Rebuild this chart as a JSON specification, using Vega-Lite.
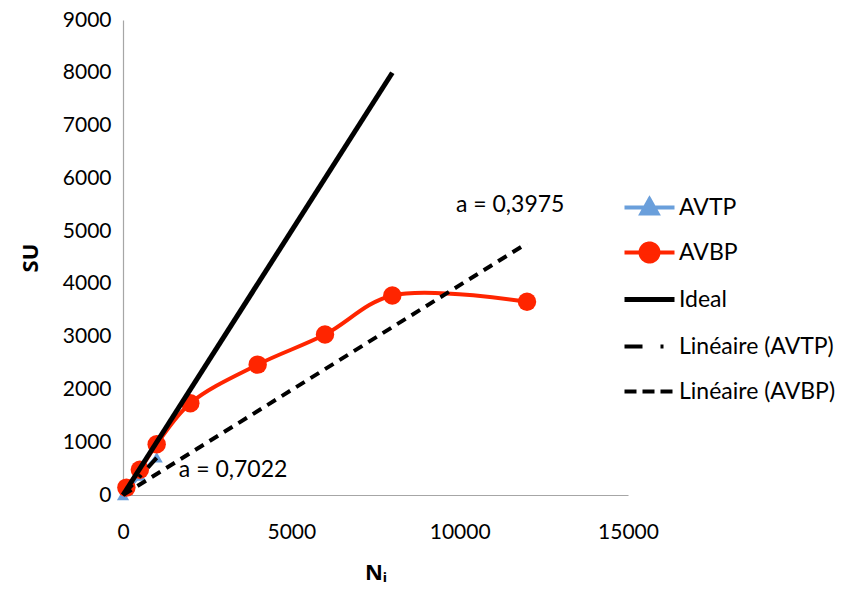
{
  "$schema": "https://vega.github.io/schema/vega-lite/v6.json",
  "width": 505,
  "height": 475,
  "autosize": {"type": "none"},
  "padding": {"left": 123, "top": 20, "right": 224, "bottom": 97},
  "background": "white",
  "config": {
    "view": {"stroke": null},
    "font": "Lato",
    "axis": {"grid": false, "ticks": false, "labelFlush": false, "domainColor": "#a6a6a6", "domainWidth": 1.2, "labelFont": "Lato", "labelFontSize": 21, "labelColor": "#000000", "titleFont": "Noto Sans", "titleFontSize": 22, "titleFontWeight": "bold", "titleColor": "#000000"}
  },
  "datasets": {
    "series": [
      {"series": "AVTP", "x": 1, "y": 1},
      {"series": "AVTP", "x": 100, "y": 95},
      {"series": "AVTP", "x": 500, "y": 370},
      {"series": "AVTP", "x": 1000, "y": 715},
      {"series": "AVBP", "x": 100, "y": 140},
      {"series": "AVBP", "x": 500, "y": 480},
      {"series": "AVBP", "x": 1000, "y": 960},
      {"series": "AVBP", "x": 2000, "y": 1740},
      {"series": "AVBP", "x": 4000, "y": 2470},
      {"series": "AVBP", "x": 6000, "y": 3040},
      {"series": "AVBP", "x": 8000, "y": 3780},
      {"series": "AVBP", "x": 12000, "y": 3660},
      {"series": "Ideal", "x": 0, "y": 0},
      {"series": "Ideal", "x": 8000, "y": 8000},
      {"series": "Linéaire (AVTP)", "x": 0, "y": 0},
      {"series": "Linéaire (AVTP)", "x": 1000, "y": 702.2},
      {"series": "Linéaire (AVBP)", "x": 0, "y": 0},
      {"series": "Linéaire (AVBP)", "x": 12000, "y": 4770}
    ],
    "notes": [
      {"x": 11500, "y": 5490, "label": "a = 0,3975"},
      {"x": 3270, "y": 473, "label": "a = 0,7022"}
    ]
  },
  "data": {"name": "series"},
  "encoding": {
    "x": {"field": "x", "type": "quantitative", "scale": {"domain": [0, 15000]}, "axis": {"values": [0, 5000, 10000, 15000], "title": "Nᵢ", "labelPadding": 26, "titlePadding": 20, "format": "d"}},
    "y": {"field": "y", "type": "quantitative", "scale": {"domain": [0, 9000]}, "axis": {"values": [0, 1000, 2000, 3000, 4000, 5000, 6000, 7000, 8000, 9000], "title": "SU", "labelPadding": 12, "titlePadding": 20, "format": "d"}}
  },
  "layer": [
    {
      "transform": [{"filter": "datum.series === 'AVTP'"}],
      "mark": {"type": "line", "strokeWidth": 4},
      "encoding": {
        "color": {
          "field": "series", "type": "nominal",
          "scale": {"domain": ["AVTP", "AVBP", "Ideal", "Linéaire (AVTP)", "Linéaire (AVBP)"], "range": ["#6A9FDB", "#FF2500", "#000000", "#000000", "#000000"]},
          "legend": {
            "orient": "none", "legendX": 515, "legendY": 176, "title": null,
            "symbolSize": 2500, "symbolStrokeWidth": 4, "rowPadding": 0, "padding": 0,
            "labelFont": "Lato", "labelFontSize": 23, "labelColor": "#000000", "labelOffset": 18, "labelLimit": 300,
            "encode": {
              "symbols": {
                "update": {
                  "size": {"value": 2500},
                  "shape": {"signal": "datum.value === 'AVTP' ? 'M0,-0.562L0,-0.562M0,0.562L0,0.562M-1,0H1M-0.32,0.24L0,-0.33L0.32,0.24Z' : datum.value === 'AVBP' ? 'M0,-0.562L0,-0.562M0,0.562L0,0.562M-1,0H1M-0.36,0A0.36,0.36,0,1,0,0.36,0A0.36,0.36,0,1,0,-0.36,0Z' : 'M0,-0.562L0,-0.562M0,0.562L0,0.562M-1,0H1'"},
                  "strokeDash": {"signal": "datum.value === 'Linéaire (AVTP)' ? [18,18,3,20] : datum.value === 'Linéaire (AVBP)' ? [12,6] : [1,0]"},
                  "fill": {"signal": "datum.value === 'AVTP' ? '#6A9FDB' : datum.value === 'AVBP' ? '#FF2500' : 'transparent'"},
                  "stroke": {"signal": "datum.value === 'AVTP' ? '#6A9FDB' : datum.value === 'AVBP' ? '#FF2500' : '#000000'"},
                  "strokeWidth": {"signal": "datum.value === 'Ideal' ? 5 : 4"},
                  "opacity": {"value": 1}
                }
              }
            }
          }
        }
      }
    },
    {
      "transform": [{"filter": "datum.series === 'AVTP'"}],
      "mark": {"type": "point", "shape": "triangle-up", "filled": true, "size": 150, "opacity": 1},
      "encoding": {"color": {"field": "series", "type": "nominal"}}
    },
    {
      "transform": [{"filter": "datum.series === 'AVBP'"}],
      "mark": {"type": "line", "strokeWidth": 4, "interpolate": "catmull-rom"},
      "encoding": {"color": {"field": "series", "type": "nominal"}}
    },
    {
      "transform": [{"filter": "datum.series === 'AVBP'"}],
      "mark": {"type": "point", "shape": "circle", "filled": true, "size": 340, "opacity": 1},
      "encoding": {"color": {"field": "series", "type": "nominal"}}
    },
    {
      "transform": [{"filter": "datum.series === 'Ideal'"}],
      "mark": {"type": "line", "strokeWidth": 5},
      "encoding": {"color": {"field": "series", "type": "nominal"}}
    },
    {
      "transform": [{"filter": "datum.series === 'Linéaire (AVTP)'"}],
      "mark": {"type": "line", "strokeWidth": 4, "strokeDash": [14, 10, 3, 10]},
      "encoding": {"color": {"field": "series", "type": "nominal"}}
    },
    {
      "transform": [{"filter": "datum.series === 'Linéaire (AVBP)'"}],
      "mark": {"type": "line", "strokeWidth": 4, "strokeDash": [10, 7]},
      "encoding": {"color": {"field": "series", "type": "nominal"}}
    },
    {
      "data": {"name": "notes"},
      "mark": {"type": "text", "font": "Lato", "fontSize": 23, "color": "#000000", "align": "center", "baseline": "middle"},
      "encoding": {"text": {"field": "label", "type": "nominal"}}
    }
  ]
}
